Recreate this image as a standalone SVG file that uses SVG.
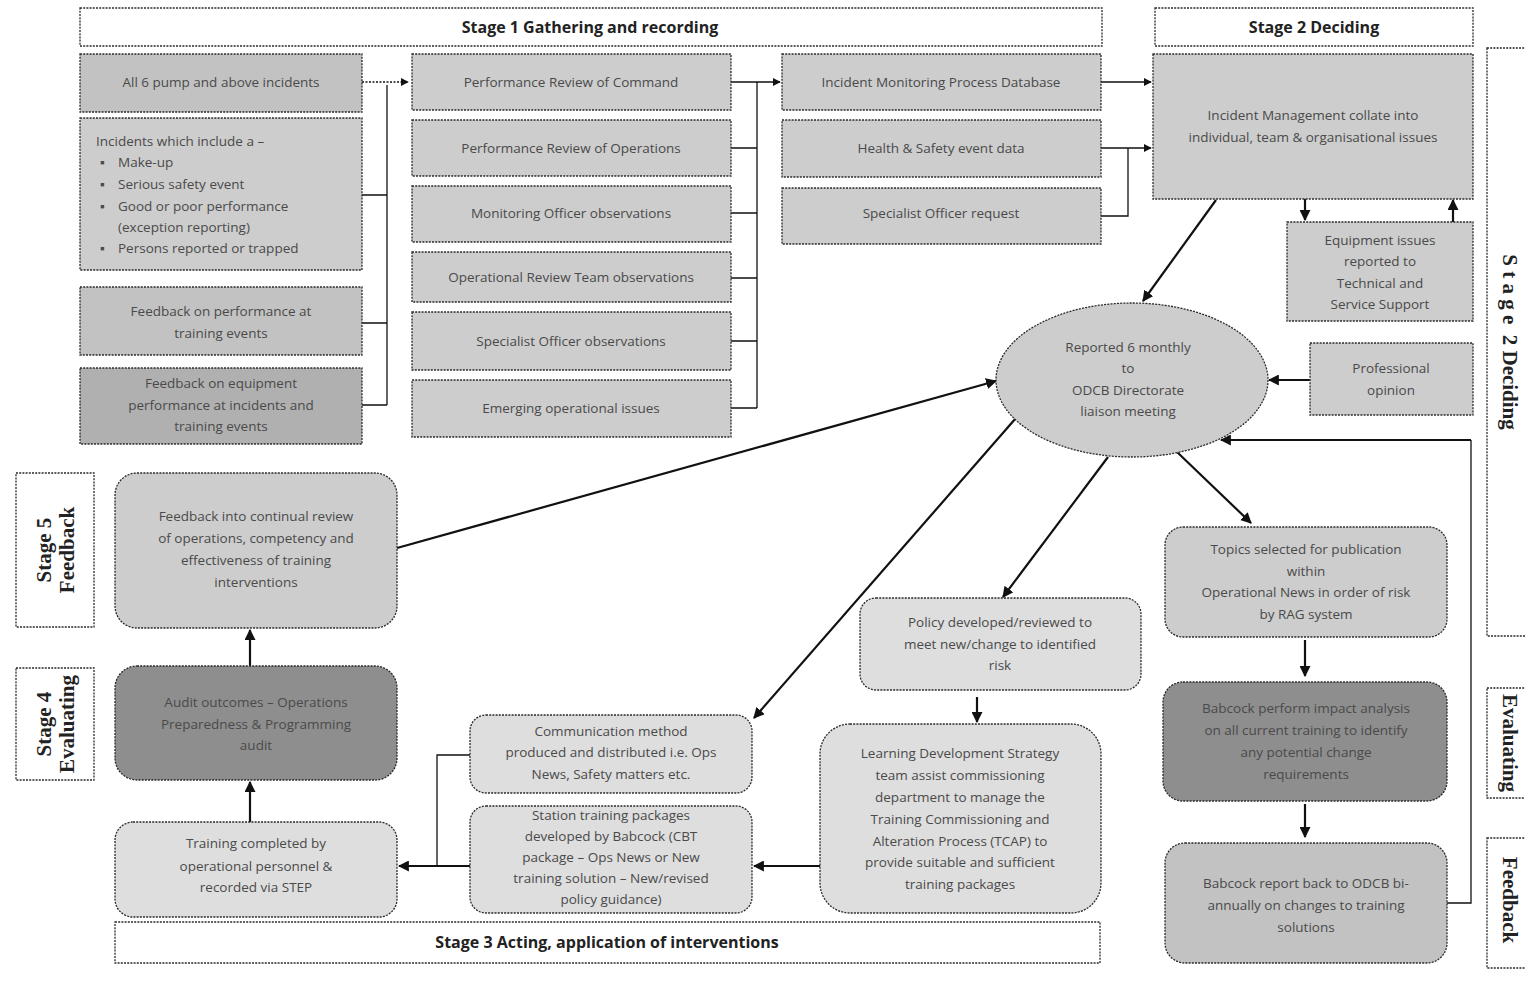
<svg xmlns="http://www.w3.org/2000/svg" width="1525" height="990" viewBox="0 0 1525 990">
<style>
.box{stroke:#2a2a2a;stroke-width:1.3;stroke-dasharray:2 1.2}
.hdr{fill:#ffffff}
.l1{fill:#cdcdcd}
.l2{fill:#c2c2c2}
.l3{fill:#dedede}
.dk{fill:#8e8e8e}
.t{font-family:"Open Sans","Liberation Sans",sans-serif;font-size:13.5px;fill:#4a4a4a;text-anchor:middle}
.tl{font-family:"Open Sans","Liberation Sans",sans-serif;font-size:13.5px;fill:#4a4a4a}
.h{font-family:"Open Sans","Liberation Sans",sans-serif;font-size:16px;font-weight:bold;fill:#222;text-anchor:middle}
.s{font-family:"Liberation Serif","Times New Roman",serif;font-size:21px;font-weight:bold;fill:#222;text-anchor:middle}
.c{fill:none;stroke:#111;stroke-width:1.3}
.ct{fill:none;stroke:#111;stroke-width:2.2}
.cd{fill:none;stroke:#111;stroke-width:1.3;stroke-dasharray:2 1.5}
</style>
<defs>
<marker id="ar" viewBox="0 0 10 10" refX="9" refY="5" markerWidth="8" markerHeight="8" markerUnits="userSpaceOnUse" orient="auto"><path d="M0,0 L10,5 L0,10 z" fill="#111"/></marker>
<marker id="arb" viewBox="0 0 10 10" refX="9" refY="5" markerWidth="11" markerHeight="11" markerUnits="userSpaceOnUse" orient="auto"><path d="M0,0 L10,5 L0,10 z" fill="#111"/></marker>
</defs>
<rect width="1525" height="990" fill="#ffffff"/>

<g id="headers">
<g id="stage1"><rect class="box hdr" x="80" y="8" width="1022" height="38"/><text class="h" x="590" y="33">Stage 1 Gathering and recording</text></g>
<g id="stage2"><rect class="box hdr" x="1155" y="8" width="318" height="38"/><text class="h" x="1314" y="33">Stage 2 Deciding</text></g>
<g id="stage2side"><rect class="box hdr" x="1487" y="48" width="45" height="588"/><text class="s" font-size="20" transform="translate(1503,342) rotate(90)" xml:space="preserve">S t a g e  2 Deciding</text></g>
<g id="evalside"><rect class="box hdr" x="1487" y="688" width="45" height="110"/><text class="s" transform="translate(1503,743) rotate(90)">Evaluating</text></g>
<g id="feedside"><rect class="box hdr" x="1487" y="838" width="45" height="130"/><text class="s" transform="translate(1503,900) rotate(90)">Feedback</text></g>
<g id="stage5"><rect class="box hdr" x="16" y="473" width="78" height="154"/><text class="s" transform="translate(55,550) rotate(-90)"><tspan x="0" y="-4">Stage 5</tspan><tspan x="0" y="19">Feedback</tspan></text></g>
<g id="stage4"><rect class="box hdr" x="16" y="668" width="78" height="112"/><text class="s" transform="translate(55,724) rotate(-90)"><tspan x="0" y="-4">Stage 4</tspan><tspan x="0" y="19">Evaluating</tspan></text></g>
<g id="stage3"><rect class="box hdr" x="115" y="922" width="985" height="41"/><text class="h" x="607" y="948">Stage 3 Acting, application of interventions</text></g>
</g>

<g id="connectors">
<path class="cd" d="M362,82 H408" marker-end="url(#ar)"/>
<path class="c" d="M387,85 V405 M362,195 H387 M362,323 H387 M362,405 H387"/>
<path class="c" d="M731,82 H780" marker-end="url(#ar)"/>
<path class="c" d="M757,82 V408 M731,148 H757 M731,213 H757 M731,278 H757 M731,341 H757 M731,408 H757"/>
<path class="c" d="M1101,82 H1151" marker-end="url(#ar)"/>
<path class="c" d="M1101,148 H1151" marker-end="url(#ar)"/>
<path class="c" d="M1101,216 H1128 V148"/>
<path class="ct" d="M1305,199 V220" marker-end="url(#arb)"/>
<path class="ct" d="M1453,222 V200" marker-end="url(#arb)"/>
<path class="ct" d="M1216,200 L1143,301" marker-end="url(#arb)"/>
<path class="ct" d="M1310,380 H1269" marker-end="url(#arb)"/>
<path class="ct" d="M397,548 L996,381" marker-end="url(#arb)"/>
<path class="ct" d="M1016,418 L754,718" marker-end="url(#arb)"/>
<path class="ct" d="M1108,457 L1003,597" marker-end="url(#arb)"/>
<path class="ct" d="M1177,452 L1251,523" marker-end="url(#arb)"/>
<path class="ct" d="M977,697 V722" marker-end="url(#arb)"/>
<path class="ct" d="M1305,640 V676" marker-end="url(#arb)"/>
<path class="ct" d="M1305,804 V837" marker-end="url(#arb)"/>
<path class="c" d="M1447,903 H1471 V440"/>
<path class="ct" d="M1471,440 H1221" marker-end="url(#arb)"/>
<path class="ct" d="M820,866 H754" marker-end="url(#arb)"/>
<path class="ct" d="M470,866 H399" marker-end="url(#arb)"/>
<path class="c" d="M470,755 H437 V866"/>
<path class="ct" d="M250,666 V630" marker-end="url(#arb)"/>
<path class="ct" d="M250,822 V782" marker-end="url(#arb)"/>
</g>

<g id="n-all6"><rect class="box l2" x="80" y="54" width="282" height="58"/><text class="t" x="221" y="87">All 6 pump and above incidents</text></g>
<g id="n-incidents"><rect class="box l1" x="80" y="118" width="282" height="152"/>
<text class="tl" x="96" y="146">Incidents which include a –</text>
<text class="tl" x="100" y="167">▪</text><text class="tl" x="118" y="167">Make-up</text>
<text class="tl" x="100" y="189">▪</text><text class="tl" x="118" y="189">Serious safety event</text>
<text class="tl" x="100" y="211">▪</text><text class="tl" x="118" y="211">Good or poor performance</text>
<text class="tl" x="118" y="232">(exception reporting)</text>
<text class="tl" x="100" y="253">▪</text><text class="tl" x="118" y="253">Persons reported or trapped</text></g>
<g id="n-fbtrain"><rect class="box l2" x="80" y="287" width="282" height="68"/><text class="t" x="221" y="316">Feedback on performance at</text><text class="t" x="221" y="338">training events</text></g>
<g id="n-fbequip"><rect class="box" fill="#b0b0b0" x="80" y="368" width="282" height="76"/><text class="t" x="221" y="388">Feedback on equipment</text><text class="t" x="221" y="410">performance  at incidents and</text><text class="t" x="221" y="431">training events</text></g>

<g id="n-prc"><rect class="box l1" x="412" y="54" width="319" height="56"/><text class="t" x="571" y="87">Performance Review of Command</text></g>
<g id="n-pro"><rect class="box l1" x="412" y="120" width="319" height="56"/><text class="t" x="571" y="153">Performance Review of Operations</text></g>
<g id="n-moo"><rect class="box l1" x="412" y="186" width="319" height="56"/><text class="t" x="571" y="218">Monitoring Officer observations</text></g>
<g id="n-ort"><rect class="box l1" x="412" y="252" width="319" height="50"/><text class="t" x="571" y="282">Operational Review Team observations</text></g>
<g id="n-soo"><rect class="box l1" x="412" y="312" width="319" height="58"/><text class="t" x="571" y="346">Specialist Officer observations</text></g>
<g id="n-eoi"><rect class="box l1" x="412" y="380" width="319" height="57"/><text class="t" x="571" y="413">Emerging operational issues</text></g>

<g id="n-impd"><rect class="box l1" x="782" y="54" width="319" height="56"/><text class="t" x="941" y="87">Incident Monitoring Process Database</text></g>
<g id="n-hs"><rect class="box l1" x="782" y="120" width="319" height="57"/><text class="t" x="941" y="153">Health &amp; Safety event data</text></g>
<g id="n-sor"><rect class="box l1" x="782" y="188" width="319" height="56"/><text class="t" x="941" y="218">Specialist Officer request</text></g>

<g id="n-im"><rect class="box l1" x="1153" y="54" width="320" height="145"/><text class="t" x="1313" y="120">Incident Management  collate into</text><text class="t" x="1313" y="142">individual, team &amp; organisational  issues</text></g>
<g id="n-equip"><rect class="box l1" x="1287" y="222" width="186" height="99"/><text class="t" x="1380" y="245">Equipment issues</text><text class="t" x="1380" y="266">reported to</text><text class="t" x="1380" y="288">Technical and</text><text class="t" x="1380" y="309">Service Support</text></g>
<g id="n-odcb"><ellipse class="box l1" cx="1132" cy="380" rx="136" ry="77"/><text class="t" x="1128" y="352">Reported 6 monthly</text><text class="t" x="1128" y="373">to</text><text class="t" x="1128" y="395">ODCB  Directorate</text><text class="t" x="1128" y="416">liaison meeting</text></g>
<g id="n-prof"><rect class="box l1" x="1310" y="343" width="163" height="72"/><text class="t" x="1391" y="373">Professional</text><text class="t" x="1391" y="395">opinion</text></g>

<g id="n-feedback"><rect class="box l1" x="115" y="473" width="282" height="155" rx="22"/><text class="t" x="256" y="521">Feedback into continual review</text><text class="t" x="256" y="543">of operations, competency and</text><text class="t" x="256" y="565">effectiveness of training</text><text class="t" x="256" y="587">interventions</text></g>
<g id="n-audit"><rect class="box dk" x="115" y="666" width="282" height="114" rx="22"/><text class="t" x="256" y="707">Audit outcomes – Operations</text><text class="t" x="256" y="729">Preparedness &amp; Programming</text><text class="t" x="256" y="750">audit</text></g>
<g id="n-trained"><rect class="box l3" x="115" y="822" width="282" height="95" rx="18"/><text class="t" x="256" y="848">Training completed by</text><text class="t" x="256" y="871">operational personnel  &amp;</text><text class="t" x="256" y="892">recorded via STEP</text></g>
<g id="n-comm"><rect class="box l3" x="470" y="715" width="282" height="78" rx="16"/><text class="t" x="611" y="736">Communication method</text><text class="t" x="611" y="757">produced and distributed i.e. Ops</text><text class="t" x="611" y="779">News, Safety matters etc.</text></g>
<g id="n-station"><rect class="box l3" x="470" y="806" width="282" height="107" rx="16"/><text class="t" x="611" y="820">Station training packages</text><text class="t" x="611" y="841">developed by Babcock (CBT</text><text class="t" x="611" y="862">package – Ops News or New</text><text class="t" x="611" y="883">training solution – New/revised</text><text class="t" x="611" y="904">policy guidance)</text></g>
<g id="n-policy"><rect class="box l3" x="860" y="598" width="281" height="92" rx="16"/><text class="t" x="1000" y="627">Policy developed/reviewed to</text><text class="t" x="1000" y="649">meet new/change to identified</text><text class="t" x="1000" y="670">risk</text></g>
<g id="n-lds"><rect class="box l3" x="820" y="724" width="281" height="189" rx="30"/><text class="t" x="960" y="758">Learning Development Strategy</text><text class="t" x="960" y="780">team assist commissioning</text><text class="t" x="960" y="802">department  to manage the</text><text class="t" x="960" y="824">Training Commissioning and</text><text class="t" x="960" y="846">Alteration Process (TCAP) to</text><text class="t" x="960" y="867">provide suitable and sufficient</text><text class="t" x="960" y="889">training packages</text></g>
<g id="n-topics"><rect class="box l1" x="1165" y="527" width="282" height="110" rx="18"/><text class="t" x="1306" y="554">Topics selected for publication</text><text class="t" x="1306" y="576">within</text><text class="t" x="1306" y="597">Operational News in order of risk</text><text class="t" x="1306" y="619">by RAG system</text></g>
<g id="n-impact"><rect class="box dk" x="1163" y="682" width="284" height="119" rx="20"/><text class="t" x="1306" y="713">Babcock perform impact analysis</text><text class="t" x="1306" y="735">on all current training to identify</text><text class="t" x="1306" y="757">any potential change</text><text class="t" x="1306" y="779">requirements</text></g>
<g id="n-report"><rect class="box l2" x="1165" y="843" width="282" height="120" rx="20"/><text class="t" x="1306" y="888">Babcock report back to ODCB bi-</text><text class="t" x="1306" y="910">annually on changes to training</text><text class="t" x="1306" y="932">solutions</text></g>
</svg>
